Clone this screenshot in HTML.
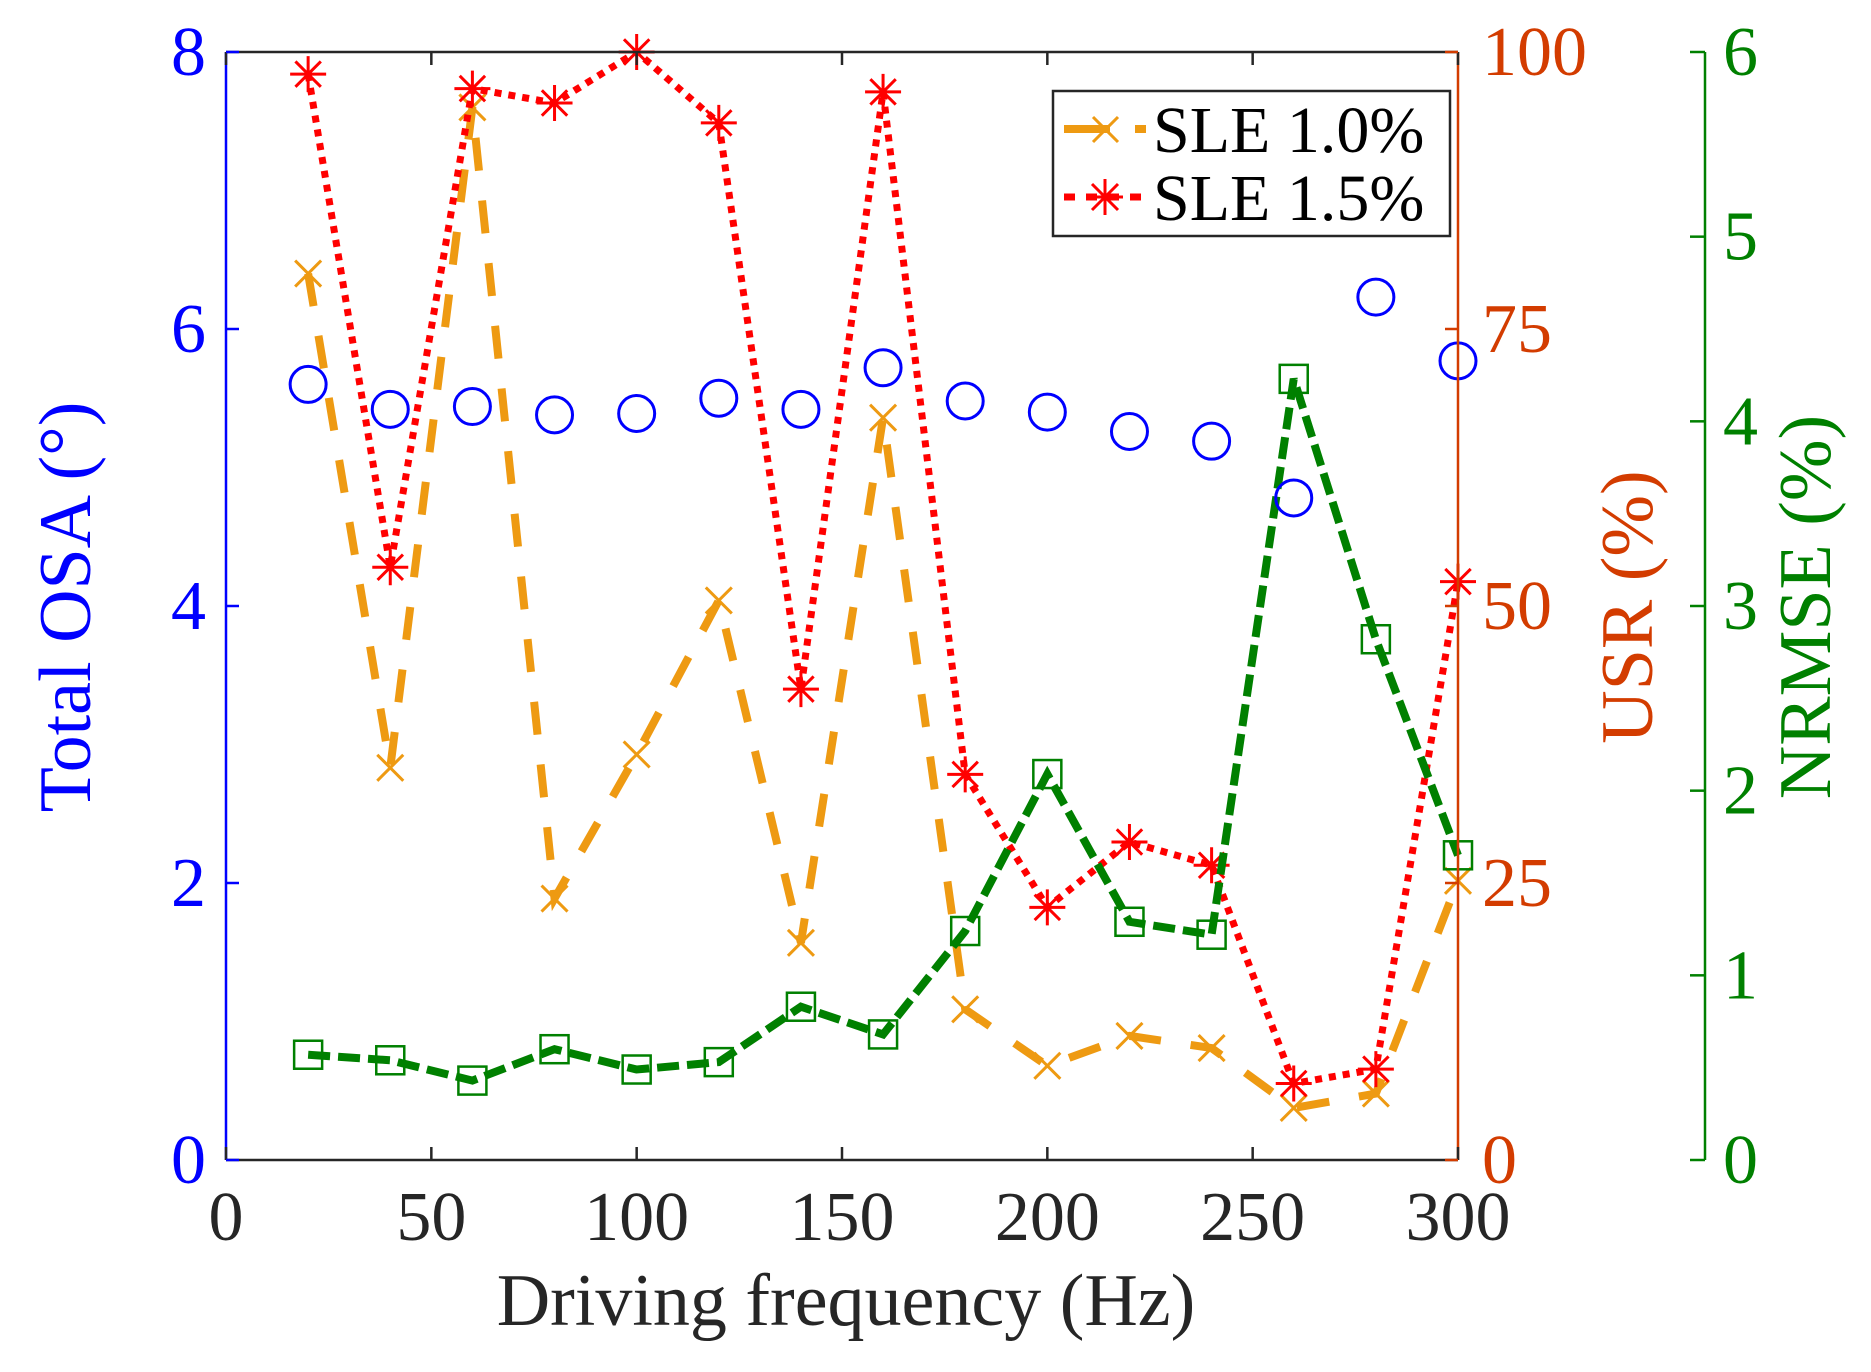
<!DOCTYPE html>
<html><head><meta charset="utf-8"><style>
html,body{margin:0;padding:0;background:#fff;}
svg, svg text{font-family:"Liberation Serif","Times New Roman","DejaVu Serif",serif;}
</style></head><body>
<svg id="chart" width="1871" height="1367" viewBox="0 0 1871 1367" xmlns="http://www.w3.org/2000/svg">
<g id="marks"></g>
<g id="axes"></g>
</svg>
<script>
const freqs=[20,40,60,80,100,120,140,160,180,200,220,240,260,280,300];
const osa=[5.6,5.42,5.44,5.38,5.39,5.5,5.42,5.72,5.48,5.4,5.26,5.19,4.78,6.23,5.77];
const sle10=[80,35.4,95,23.6,36.6,50.5,19.6,67,13.6,8.5,11.2,10.1,4.7,6,25.2];
const sle15=[98,53.5,96.7,95.4,100,93.6,42.5,96.4,34.8,22.8,28.7,26.6,6.9,8.2,52.2];
const nrmse=[0.57,0.54,0.43,0.6,0.49,0.53,0.83,0.68,1.24,2.09,1.29,1.22,4.23,2.82,1.65];
const xTicks=[0,50,100,150,200,250,300];
const yLTicks=[0,2,4,6,8];
const yUTicks=[0,25,50,75,100];
const yNTicks=[0,1,2,3,4,5,6];

const FONT='"Liberation Serif","Times New Roman","DejaVu Serif",serif';
const L=226,R=1458,T=52,B=1160,GX=1705;
const NS="http://www.w3.org/2000/svg";
const sx=v=>L+(v-0)/300*(R-L);
const syL=v=>B-v/8*(B-T);
const syU=v=>B-v/100*(B-T);
const syN=v=>B-v/6*(B-T);
const marks=document.getElementById('marks'),axes=document.getElementById('axes');
function mk(tag,attrs,parent){const e=document.createElementNS(NS,tag);for(const k in attrs)e.setAttribute(k,attrs[k]);(parent||marks).appendChild(e);return e;}
function pts(ys,f){return freqs.map((x,i)=>sx(x)+','+f(ys[i])).join(' ');}

let e=mk('polyline',{points:pts(sle10,syU),fill:'none',stroke:'#EE9A12','stroke-width':8,'stroke-dasharray':'33 30'});


freqs.forEach((x,i)=>{const cx=sx(x),cy=syU(sle10[i]),s=13;
 const p=mk('path',{d:`M${cx-s},${cy-s}L${cx+s},${cy+s}M${cx-s},${cy+s}L${cx+s},${cy-s}`,stroke:'#EE9A12','stroke-width':3,fill:'none'});
 
 });
e=mk('polyline',{points:pts(sle15,syU),fill:'none',stroke:'#FF0000','stroke-width':7,'stroke-dasharray':'7 7'});


freqs.forEach((x,i)=>{const cx=sx(x),cy=syU(sle15[i]),s=18,d=12.7;
 const p=mk('path',{d:`M${cx-s},${cy}L${cx+s},${cy}M${cx},${cy-s}L${cx},${cy+s}M${cx-d},${cy-d}L${cx+d},${cy+d}M${cx-d},${cy+d}L${cx+d},${cy-d}`,stroke:'#FF0000','stroke-width':3,fill:'none'});
 
 });
e=mk('polyline',{points:pts(nrmse,syN),fill:'none',stroke:'#008000','stroke-width':8,'stroke-dasharray':'22 8'});


freqs.forEach((x,i)=>{const cx=sx(x),cy=syN(nrmse[i]);
 const p=mk('rect',{x:cx-14,y:cy-14,width:28,height:28,fill:'none',stroke:'#008000','stroke-width':2.5});
 
 });
freqs.forEach((x,i)=>{
 const c=mk('circle',{cx:sx(x),cy:syL(osa[i]),r:18,fill:'none',stroke:'#0000FF','stroke-width':3});
 
 });

function line(x1,y1,x2,y2,col,w,name){const l=mk('line',{x1,y1,x2,y2,stroke:col,'stroke-width':w||2.5},axes);
 
 return l;}
function text(x,y,s,col,size,anchor,name,rot){const t=mk('text',{x,y,fill:col,'font-size':size,'font-family':FONT,'text-anchor':anchor||'middle'},axes);
 if(rot)t.setAttribute('transform',`rotate(-90 ${x} ${y})`);t.textContent=s;
 
 return t;}
line(L,T,R,T,'#262626',2.5,'top-axis');
line(L,B,R,B,'#262626',2.5,'x-axis');
line(L,T,L,B,'#0000FF',2.5,'left-y-axis');
line(R,T,R,B,'#D33C00',2.5,'usr-axis');
line(GX,T,GX,B,'#008000',2.5,'nrmse-axis');
xTicks.forEach(v=>{const x=sx(v);line(x,B,x,B-13,'#262626',2.5,'x-tick');line(x,T,x,T+13,'#262626',2.5,'x-tick-top');
 text(x,1240,String(v),'#262626',70,'middle','x-tick-label');});
yLTicks.forEach(v=>{const y=syL(v);line(L,y,L+13,y,'#0000FF',2.5,'left-y-tick');
 text(206,y+23,String(v),'#0000FF',70,'end','left-y-tick-label');});
yUTicks.forEach(v=>{const y=syU(v);line(R,y,R-13,y,'#D33C00',2.5,'usr-tick');
 text(1482,y+23,String(v),'#D33C00',70,'start','usr-tick-label');});
yNTicks.forEach(v=>{const y=syN(v);line(GX,y,GX-15,y,'#008000',2.5,'nrmse-tick');
 text(1723,y+23,String(v),'#008000',70,'start','nrmse-tick-label');});
text(846,1325,'Driving frequency (Hz)','#262626',74,'middle','x-axis-title');
text(90,607,'Total OSA (°)','#0000FF',74,'middle','left-y-axis-title',true);
text(1652,607,'USR (%)','#D33C00',74,'middle','usr-axis-title',true);
text(1830,607,'NRMSE (%)','#008000',74,'middle','nrmse-axis-title',true);

const lg=mk('g',{},axes);


let r=mk('rect',{x:1053,y:91,width:397,height:145,fill:'#fff',stroke:'#262626','stroke-width':2.5},lg);


let g1=mk('g',{},lg);


mk('line',{x1:1064,y1:129,x2:1110,y2:129,stroke:'#EE9A12','stroke-width':8},g1);
mk('line',{x1:1135,y1:129,x2:1146,y2:129,stroke:'#EE9A12','stroke-width':8},g1);
mk('path',{d:'M1093,117L1118,142M1093,142L1118,117',stroke:'#EE9A12','stroke-width':3,fill:'none'},g1);
let t1=mk('text',{x:1153,y:152,'font-size':66,'font-family':FONT,fill:'#000'},g1);t1.textContent='SLE 1.0%';
let g2=mk('g',{},lg);


mk('line',{x1:1064,y1:197,x2:1146,y2:197,stroke:'#FF0000','stroke-width':7,'stroke-dasharray':'11 11'},g2);
mk('path',{d:'M1087,197L1123,197M1105,179L1105,215M1092,184L1118,210M1092,210L1118,184',stroke:'#FF0000','stroke-width':3,fill:'none'},g2);
let t2=mk('text',{x:1153,y:220,'font-size':66,'font-family':FONT,fill:'#000'},g2);t2.textContent='SLE 1.5%';
</script>
</body></html>
